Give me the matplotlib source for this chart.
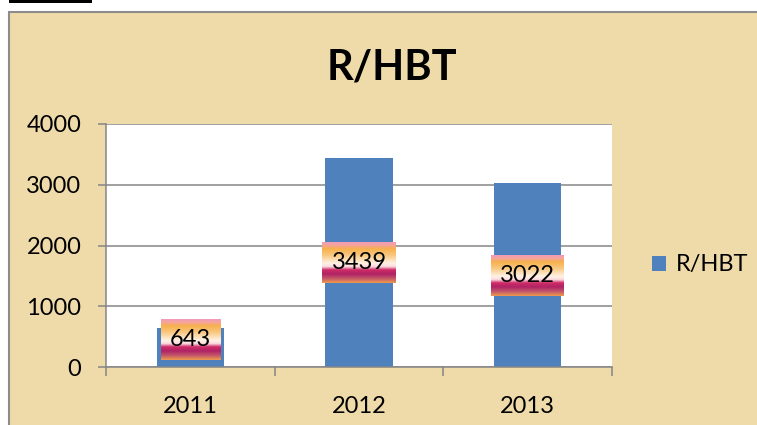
import matplotlib.pyplot as plt
import numpy as np
from matplotlib.colors import LinearSegmentedColormap
from matplotlib.patches import Rectangle

years = ['2011', '2012', '2013']
values = [643, 3439, 3022]
series_name = 'R/HBT'
y_ticks = [0, 1000, 2000, 3000, 4000]

W, H = 757, 425
plt.rcParams['font.family'] = ['Lato', 'DejaVu Sans']

fig = plt.figure(figsize=(W / 100, H / 100), dpi=100, facecolor='white')

# parchment chart area with grey frame (runs off right/bottom edge)
fig.patches.append(Rectangle((9 / W, -0.1), 1.2, 1.1 - 12 / H,
                             transform=fig.transFigure, facecolor='#EFDBA9',
                             edgecolor='#8C8C8C', linewidth=1.5, zorder=-2))
# black caption bar cut at the top
fig.patches.append(Rectangle((9 / W, 1 - 3 / H), 83 / W, 3 / H,
                             transform=fig.transFigure, facecolor='black',
                             edgecolor='none', zorder=-1))

ax = fig.add_axes([106 / W, 58 / H, 506 / W, 243 / H])
ax.set_zorder(2)
ax.set_facecolor('white')

x = np.arange(len(years))
ax.bar(x, values, width=0.4, color='#4F81BD', label=series_name, zorder=2)
ax.set_xlim(-0.5, 2.5)
ax.set_ylim(0, 4000)
ax.set_yticks(y_ticks)
ax.yaxis.grid(True, color='#868686', linewidth=1.1)
ax.set_axisbelow(True)

for s in ['top', 'right']:
    ax.spines[s].set_visible(False)
for s in ['left', 'bottom']:
    ax.spines[s].set_color('#868686')
    ax.spines[s].set_linewidth(1.1)

ax.set_xticks(x)
ax.set_xticklabels(years)
ax.set_xticks([-0.5, 0.5, 1.5, 2.5], minor=True)
ax.tick_params(axis='x', which='major', length=0, pad=21, labelsize=17)
ax.tick_params(axis='x', which='minor', length=6.5, width=1.1, color='#868686')
ax.tick_params(axis='y', length=5.8, width=1.1, color='#868686', pad=12, labelsize=17)

fig.text(392 / W, 1 - 80 / H, 'R/HBT', ha='center', va='baseline',
         fontsize=30, fontweight='bold', zorder=3)

ax.legend(loc='center left', bbox_to_anchor=(652 / W, 1 - 265 / H),
          bbox_transform=fig.transFigure, frameon=False, fontsize=17,
          handlelength=0.6, handleheight=0.6, handletextpad=0.4,
          borderpad=0, borderaxespad=0)

# data labels with gradient boxes
grad_cmap = LinearSegmentedColormap.from_list('fire', [
    (0.00, '#F29AB8'), (0.08, '#F5A59A'), (0.16, '#F7B04C'),
    (0.32, '#F9C77F'), (0.52, '#FFF2E4'), (0.60, '#FBDCE0'),
    (0.68, '#D02A68'), (0.78, '#B02365'), (0.88, '#C0506A'),
    (1.00, '#EE9A4E')])
grad = np.linspace(0, 1, 200).reshape(-1, 1)

labels = []
for xi, v in zip(x, values):
    # short bars: the label box is kept clear of the axis line
    t = ax.text(xi, max(v / 2, 450), str(v), ha='center', va='center',
                fontsize=17, zorder=5)
    labels.append(t)

fig.canvas.draw()
renderer = fig.canvas.get_renderer()
inv = ax.transData.inverted()
for t in labels:
    bb = t.get_window_extent(renderer)
    yc = (bb.y0 + bb.y1) / 2
    (dx0, dy0) = inv.transform((bb.x0 - 9, yc - 20.5))
    (dx1, dy1) = inv.transform((bb.x1 + 9, yc + 20.5))
    ax.imshow(grad, extent=(dx0, dx1, dy0, dy1), aspect='auto', cmap=grad_cmap,
              origin='upper', zorder=4, interpolation='bilinear')

ax.set_xlim(-0.5, 2.5)
ax.set_ylim(0, 4000)

fig.savefig('out.png', dpi=100, facecolor='white')
